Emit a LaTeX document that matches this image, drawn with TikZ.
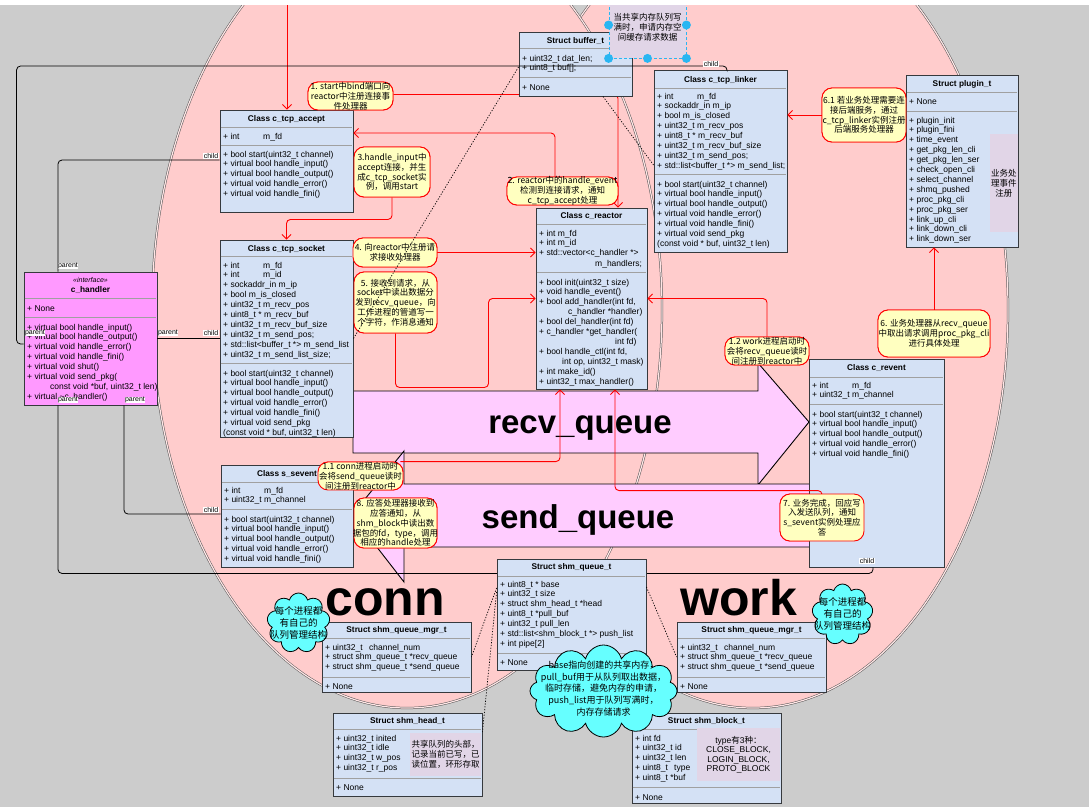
\documentclass[tikz,border=0pt]{standalone}
\usepackage{fontspec}
\setmainfont{Liberation Sans}
\newfontfamily\cjk{Noto Sans CJK SC}
\usetikzlibrary{arrows.meta,shapes.symbols}
\definecolor{bggray}{HTML}{CCCCCC}
\definecolor{ellpink}{HTML}{FFCCCC}
\definecolor{ellline}{HTML}{555555}
\definecolor{ellgap}{HTML}{FFE6E6}
\definecolor{boxfill}{HTML}{D4E1F5}
\definecolor{boxline}{HTML}{36393D}
\definecolor{sepgray}{HTML}{A0A0A0}
\definecolor{handfill}{HTML}{FF99FF}
\definecolor{qfill}{HTML}{FFCCFF}
\definecolor{noteyel}{HTML}{FFFFC0}
\definecolor{notepurple}{HTML}{E1D5E7}
\definecolor{cloudcyan}{HTML}{66FFFF}
\definecolor{handleblue}{HTML}{29B6F2}
\catcode`\_=12
\tikzset{
  umlbox/.style={rectangle,draw=boxline,line width=0.9pt,inner sep=0pt},
  sepl/.style={draw=sepgray,line width=1pt},
  txt/.style={inner sep=0pt,font=\fontsize{8.5}{9.9}\selectfont},
  ttl/.style={inner sep=0pt,font=\bfseries\fontsize{8.3}{9.9}\selectfont},
  note/.style={rectangle,draw=red,fill=noteyel,rounded corners=10pt,line width=0.9pt,inner sep=0pt},
  notetxt/.style={align=center,inner sep=0pt,font=\cjk\fontsize{8.5}{9.8}\selectfont},
  side/.style={rectangle,fill=notepurple,inner sep=0pt},
  redln/.style={draw=red,line width=0.9pt,rounded corners=4pt},
  redar/.style={redln,-{Straight Barb[length=4.5pt,width=9pt]}},
  blk/.style={draw=black,line width=0.8pt,rounded corners=4pt},
  lbl/.style={fill=white,inner sep=0.5pt,font=\fontsize{7}{7.5}\selectfont},
  dotl/.style={draw=black,line width=0.7pt,dash pattern=on 1.2pt off 1.6pt},
  qarrow/.style={draw=black,fill=qfill,line width=0.9pt},
  qtxt/.style={inner sep=0pt,font=\bfseries\fontsize{33}{33}\selectfont},
  bigtxt/.style={inner sep=0pt,font=\bfseries\fontsize{50}{50}\selectfont},
  cloudbox/.style={cloud,cloud ignores aspect,draw=black,fill=cloudcyan,line width=0.8pt,inner sep=0pt},
  ell/.style={fill=ellpink,draw=ellline,line width=0.5pt,double=ellgap,double distance=1.2pt}
}
\newcommand\ubox[6]{\node[umlbox,fill=#6,minimum width={(#4-#2)*1pt},minimum height={(#5-#3)*1pt}] (#1) at ({(#2+#4)/2},{(#3+#5)/2}) {};}
\newcommand\usep[3]{\draw[sepl] ({#1+0.6},{#3}) -- ({#2-0.6},{#3});}
\newcommand\utitle[4]{\node[ttl,anchor=base] (#1) at ({#2},{#3+3}) {#4};}
\newcommand\ulines[4]{\foreach \lx [count=\i from 0] in {#4} {\node[txt,anchor=base west] (#1\i) at ({#2},{#3+3+\i*9.9}) {\lx};}}
\newcommand\unote[6]{\node[note,minimum width={(#4-#2)*1pt},minimum height={(#5-#3)*1pt}] (#1) at ({(#2+#4)/2},{(#3+#5)/2}) {};\node[notetxt] (#1x) at (#1) {#6};}
\newcommand\uside[6]{\node[side,minimum width={(#4-#2)*1pt},minimum height={(#5-#3)*1pt}] (#1) at ({(#2+#4)/2},{(#3+#5)/2}) {};\node[notetxt] (#1x) at (#1) {#6};}
\begin{document}
\begin{tikzpicture}[x=1pt,y=-1pt]
\useasboundingbox (0,0) rectangle (1089,807);
\fill[bggray] (0,0) rectangle (1089,807);
% ellipses
\draw[ell] (753,310) ellipse [x radius=255pt, y radius=398pt];
\draw[ell] (407,310) ellipse [x radius=255pt, y radius=398pt];
% queue arrows
\draw[qarrow] (353,391) -- (758,391) -- (758,363) -- (809,422) -- (758,485) -- (758,453) -- (353,453) -- cycle;
\node[qtxt,anchor=base] (recvt) at (580,433) {recv_queue};
\draw[qarrow] (810,484) -- (404,484) -- (404,451) -- (352,515) -- (404,582) -- (404,547) -- (810,547) -- cycle;
\node[qtxt,anchor=base] (sendt) at (578,528) {send_queue};
\node[bigtxt,anchor=base west] (conn) at (325,615) {conn};
\node[bigtxt,anchor=base west] (work) at (680,615) {work};
% notes (shapes first, placed now so red lines can reference them)
\unote{N1}{308}{82}{393}{110}{1. start中bind端口向\\reactor中注册连接事\\件处理器}
\unote{N2}{507}{177}{618}{205}{2. reactor中的handle_event\\检测到连接请求，通知\\c_tcp_accept处理}
\unote{N3}{354}{147}{430}{197}{3.handle_input中\\accept连接，并生\\成c_tcp_socket实\\例，调用start}
\unote{N4}{353}{238}{437}{267}{4. 向reactor中注册请\\求接收处理器}
\unote{N5}{354}{272}{437}{333}{5. 接收到请求，从\\socket中读出数据分\\发到recv_queue，向\\工作进程的管道写一\\个字符，作消息通知}
\unote{N11}{318}{462}{403}{490}{1.1 conn进程启动时\\会将send_queue读时\\间注册到reactor中}
\unote{N8}{354}{498}{437}{548}{8. 应答处理器接收到\\应答通知，从\\shm_block中读出数\\据包的fd，type，调用\\相应的handle处理}
\unote{N12}{725}{337}{809}{365}{1.2 work进程启动时\\会将recv_queue读时\\间注册到reactor中}
\unote{N61}{822}{88}{906}{142}{6.1 若业务处理需要连\\接后端服务，通过\\c_tcp_linker实例注册\\后端服务处理器}
\unote{N6}{878}{310}{990}{357}{6. 业务处理器从recv_queue\\中取出请求调用proc_pkg_cli\\进行具体处理}
\unote{N7}{780}{494}{864}{541}{7. 业务完成，回应写\\入发送队列，通知\\s_sevent实例处理应\\答}
% boxes
\ubox{acc}{220}{110}{353}{212}{boxfill}
\ubox{sock}{220}{240}{353}{437}{boxfill}
\ubox{hand}{24}{272}{157}{405}{handfill}
\ubox{buf}{519}{32}{632}{96}{boxfill}
\ubox{link}{654}{70}{787}{252}{boxfill}
\ubox{reac}{536}{208}{647}{389}{boxfill}
\ubox{plug}{906}{75}{1018}{247}{boxfill}
\ubox{reve}{809}{359}{944}{567}{boxfill}
\ubox{seve}{221}{465}{353}{567}{boxfill}
\ubox{mgrl}{322}{622}{471}{692}{boxfill}
\ubox{mgrr}{677}{622}{826}{692}{boxfill}
\ubox{head}{333}{713}{482}{796}{boxfill}
\ubox{blk}{632}{713}{781}{803}{boxfill}
% red connectors
\coordinate (topin) at (287,5);
\draw[redar] (topin) -- (topin |- acc.north);
\draw[redar] ([yshift=1.5pt]N1.east) -| ([xshift=26.5pt]reac.north);
\draw[redar] ([xshift=-7.5pt]N2.north) |- ([yshift=28pt]acc.east);
\draw[redar] (N3.south) -- ++(0,22) -| (sock.north);
\draw[redar] (N4.east) -- (N4.east -| reac.west);
\draw[redar] (N5.south) -- ++(0,54) -- ++(93,0) |- (reac.west);
\draw[redar] (N12.north) |- (reac.east);
\draw[redar] (N6.north) -- (N6.north |- plug.south);
\draw[redar] (N61.west) -- (N61.west -| link.east);
\draw[redar] ([xshift=-3pt]N11.north east) -| ([xshift=-31.5pt]reac.south);
\draw[redar] (N7.north) -- ++(0,-3) -| ([xshift=23.5pt]reac.south);
% redraw box over red line
\ubox{buf}{519}{32}{632}{96}{boxfill}
% box contents
\utitle{acct}{286.5}{118}{Class c_tcp_accept}
\usep{220}{353}{127}
\ulines{acca}{223}{136}{{\makebox[40pt][l]{+ int}m_fd}}
\usep{220}{353}{145}
\ulines{accm}{223}{154}{+ bool start(uint32_t channel),+ virtual bool handle_input(),+ virtual bool handle_output(),+ virtual void handle_error(),+ virtual void handle_fini()}
\utitle{sockt}{286.5}{248}{Class c_tcp_socket}
\usep{220}{353}{256}
\ulines{socka}{223}{265}{{\makebox[40pt][l]{+ int}m_fd},{\makebox[40pt][l]{+ int}m_id},+ sockaddr_in m_ip,+ bool m_is_closed,+ uint32_t m_recv_pos,+ uint8_t * m_recv_buf,+ uint32_t m_recv_buf_size,+ uint32_t m_send_pos;,+ std::list<buffer_t *> m_send_list,+ uint32_t m_send_list_size;}
\usep{220}{353}{363}
\ulines{sockm}{223}{373}{+ bool start(uint32_t channel),+ virtual bool handle_input(),+ virtual bool handle_output(),+ virtual void handle_error(),+ virtual void handle_fini(),+ virtual void send_pkg,{(const void * buf, uint32_t len)}}
\node[inner sep=0pt,font=\itshape\fontsize{7}{8}\selectfont,anchor=base] (handi) at (90.5,282.5) {<<interface>>};
\utitle{handt}{90.5}{289}{c_handler}
\usep{24}{157}{298}
\ulines{handa}{27}{308}{+ None}
\usep{24}{157}{317}
\ulines{handm}{27}{327}{+ virtual bool handle_input(),+ virtual bool handle_output(),+ virtual void handle_error(),+ virtual void handle_fini(),+ virtual void shut(),+ virtual void send_pkg(,{},+ virtual \textasciitilde c_handler()}
\node[txt,anchor=base west] (handc) at (50,{327+3+6*9.9}) {const void *buf, uint32_t len)};
\utitle{buft}{575.5}{40}{Struct buffer_t}
\usep{519}{632}{48}
\ulines{bufa}{522}{58}{+ uint32_t dat_len;,+ uint8_t buf[];}
\usep{519}{632}{77}
\ulines{bufn}{522}{87}{+ None}
\utitle{linkt}{720.5}{79}{Class c_tcp_linker}
\usep{654}{787}{88}
\ulines{linka}{657}{96}{{\makebox[40pt][l]{+ int}m_fd},+ sockaddr_in m_ip,+ bool m_is_closed,+ uint32_t m_recv_pos,+ uint8_t * m_recv_buf,+ uint32_t m_recv_buf_size,+ uint32_t m_send_pos;,+ std::list<buffer_t *> m_send_list;}
\usep{654}{787}{174}
\ulines{linkm}{657}{184}{+ bool start(uint32_t channel),+ virtual bool handle_input(),+ virtual bool handle_output(),+ virtual void handle_error(),+ virtual void handle_fini(),+ virtual void send_pkg,{(const void * buf, uint32_t len)}}
\utitle{react}{591.5}{215}{Class c_reactor}
\usep{536}{647}{224}
\ulines{reaca}{539}{233}{+ int m_fd,+ int m_id,+ std::vector<c_handler *>}
\node[txt,anchor=base west] (reach) at (595,266) {m_handlers;};
\usep{536}{647}{272}
\ulines{reacm}{539}{282}{+ bool init(uint32_t size),+ void handle_event(),{+ bool add_handler(int fd,},{},+ bool del_handler(int fd),+ c_handler *get_handler(,{},{+ bool handle_ctl(int fd,},{},+ int make_id(),+ uint32_t max_handler()}
\node[txt,anchor=base west] (reacc1) at (568,{282+3+3*9.9}) {c_handler *handler)};
\node[txt,anchor=base west] (reacc2) at (615,{282+3+6*9.9}) {int fd)};
\node[txt,anchor=base west] (reacc3) at (562,{282+3+8*9.9}) {int op, uint32_t mask)};
\utitle{plugt}{962}{83}{Struct plugin_t}
\usep{906}{1018}{92}
\ulines{pluga}{909}{101}{+ None}
\usep{906}{1018}{111}
\ulines{plugm}{909}{120}{+ plugin_init,+ plugin_fini,+ time_event,+ get_pkg_len_cli,+ get_pkg_len_ser,+ check_open_cli,+ select_channel,+ shmq_pushed,+ proc_pkg_cli,+ proc_pkg_ser,+ link_up_cli,+ link_down_cli,+ link_down_ser}
\uside{plugs}{990}{134}{1017.5}{232}{业务处\\理事件\\注册}
\utitle{revet}{876.5}{367}{Class c_revent}
\usep{809}{944}{377}
\ulines{revea}{812}{385}{{\makebox[40pt][l]{+ int}m_fd},+ uint32_t m_channel}
\usep{809}{944}{404}
\ulines{revem}{812}{414}{+ bool start(uint32_t channel),+ virtual bool handle_input(),+ virtual bool handle_output(),+ virtual void handle_error(),+ virtual void handle_fini()}
\utitle{sevet}{287}{473}{Class s_sevent}
\usep{221}{353}{482}
\ulines{sevea}{224}{490}{{\makebox[40pt][l]{+ int}m_fd},+ uint32_t m_channel}
\usep{221}{353}{509}
\ulines{sevem}{224}{519}{+ bool start(uint32_t channel),+ virtual bool handle_input(),+ virtual bool handle_output(),+ virtual void handle_error(),+ virtual void handle_fini()}
\utitle{mgrlt}{396.5}{629}{Struct shm_queue_mgr_t}
\usep{322}{471}{638}
\ulines{mgrla}{325}{647}{{\makebox[44pt][l]{+ uint32_t}channel_num},+ struct shm_queue_t *recv_queue,+ struct shm_queue_t *send_queue}
\usep{322}{471}{677}
\ulines{mgrln}{325}{686}{+ None}
\utitle{mgrrt}{751.5}{629}{Struct shm_queue_mgr_t}
\usep{677}{826}{638}
\ulines{mgrra}{680}{647}{{\makebox[44pt][l]{+ uint32_t}channel_num},+ struct shm_queue_t *recv_queue,+ struct shm_queue_t *send_queue}
\usep{677}{826}{677}
\ulines{mgrrn}{680}{686}{+ None}
\utitle{headt}{407.5}{720}{Struct shm_head_t}
\usep{333}{482}{729}
\ulines{heada}{336}{738}{+ uint32_t inited,+ uint32_t idle,+ uint32_t w_pos,+ uint32_t r_pos}
\usep{333}{482}{778}
\ulines{headn}{336}{787}{+ None}
\uside{heads}{410}{733}{481}{776}{共享队列的头部，\\记录当前已写，已\\读位置，环形存取}
\utitle{blkt}{706.5}{720}{Struct shm_block_t}
\usep{632}{781}{729}
\ulines{blka}{635}{738}{+ int fd,+ uint32_t id,+ uint32_t len,{\makebox[39pt][l]{+ uint8_t}type},+ uint8_t *buf}
\usep{632}{781}{787}
\ulines{blkn}{635}{797}{+ None}
\node[side,minimum width=83pt,minimum height=53pt] (blks) at (738.5,754.5) {};
\node[align=center,inner sep=0pt,font=\fontsize{8.5}{9.5}\selectfont] (blksx) at (738.5,755) {type{\cjk 有}3{\cjk 种：}\\CLOSE_BLOCK,\\LOGIN_BLOCK,\\PROTO_BLOCK};
% black inheritance connectors
\draw[blk] ([yshift=-5.5pt]hand.west) -- ++(-7,0) -- ++(0,-278) -| ([xshift=6.5pt]link.north);
\draw[blk] ([xshift=-32.5pt]hand.north) |- ([yshift=1pt]acc.west);
\draw[blk] (hand.east) -- (hand.east -| sock.west);
\draw[blk] ([xshift=33.5pt]hand.south) |- ([yshift=2pt]seve.west);
\draw[blk] ([xshift=-32.5pt]hand.south) -- ++(0,168) -| ([xshift=-3.5pt]reve.south);
\node[lbl] (lp1) at (35,333) {parent};
\node[lbl] (lc1) at (711,64) {child};
\node[lbl] (lp2) at (68,266) {parent};
\node[lbl] (lc2) at (211,156) {child};
\node[lbl] (lp3) at (168,333) {parent};
\node[lbl] (lc3) at (211,333) {child};
\node[lbl] (lp4) at (135,400) {parent};
\node[lbl] (lc4) at (211,510) {child};
\node[lbl] (lp5) at (68,400) {parent};
\node[lbl] (lc5) at (867,561) {child};
% shm_queue_t on top of the long connector
\ubox{shmq}{497}{559}{646}{670}{boxfill}
\utitle{shmqt}{571.5}{566}{Struct shm_queue_t}
\usep{497}{646}{576}
\ulines{shmqa}{500}{584}{+ uint8_t * base,+ uint32_t size,+ struct shm_head_t *head,+ uint8_t *pull_buf,+ uint32_t pull_len,+ std::list<shm_block_t *> push_list,+ int pipe[2]}
\usep{497}{646}{653}
\ulines{shmqn}{500}{662}{+ None}
% notes on top
\unote{N1}{308}{82}{393}{110}{1. start中bind端口向\\reactor中注册连接事\\件处理器}
\unote{N2}{507}{177}{618}{205}{2. reactor中的handle_event\\检测到连接请求，通知\\c_tcp_accept处理}
\unote{N3}{354}{147}{430}{197}{3.handle_input中\\accept连接，并生\\成c_tcp_socket实\\例，调用start}
\unote{N4}{353}{238}{437}{267}{4. 向reactor中注册请\\求接收处理器}
\unote{N5}{354}{272}{437}{333}{5. 接收到请求，从\\socket中读出数据分\\发到recv_queue，向\\工作进程的管道写一\\个字符，作消息通知}
\unote{N11}{318}{462}{403}{490}{1.1 conn进程启动时\\会将send_queue读时\\间注册到reactor中}
\unote{N8}{354}{498}{437}{548}{8. 应答处理器接收到\\应答通知，从\\shm_block中读出数\\据包的fd，type，调用\\相应的handle处理}
\unote{N12}{725}{337}{809}{365}{1.2 work进程启动时\\会将recv_queue读时\\间注册到reactor中}
\unote{N61}{822}{88}{906}{142}{6.1 若业务处理需要连\\接后端服务，通过\\c_tcp_linker实例注册\\后端服务处理器}
\unote{N6}{878}{310}{990}{357}{6. 业务处理器从recv_queue\\中取出请求调用proc_pkg_cli\\进行具体处理}
\unote{N7}{780}{494}{864}{541}{7. 业务完成，回应写\\入发送队列，通知\\s_sevent实例处理应\\答}
% dotted associations
\draw[dotl] ([yshift=-3pt]buf.west) -- (sock.east);
\draw[dotl] ([xshift=27.5pt]buf.south) -- ([yshift=-4pt]link.west);
\draw[dotl] ([yshift=26.5pt]shmq.west) -- (mgrl.east);
\draw[dotl] ([yshift=22.5pt]shmq.west) -- ([yshift=22.5pt]head.east);
\draw[dotl] ([yshift=27.5pt]shmq.east) -- (mgrr.west);
% clouds
\node[cloudbox,cloud puffs=9,minimum width=63pt,minimum height=60pt] (cl1) at (298.5,623) {};
\node[align=center,inner sep=0pt,font=\cjk\fontsize{9.5}{12}\selectfont] (cl1x) at (298.5,623) {每个进程都\\有自己的\\队列管理结构};
\node[cloudbox,cloud puffs=9,minimum width=61pt,minimum height=61pt] (cl2) at (842.5,614.5) {};
\node[align=center,inner sep=0pt,font=\cjk\fontsize{9.5}{12}\selectfont] (cl2x) at (842.5,614) {每个进程都\\有自己的\\队列管理结构};
\node[cloudbox,cloud puffs=12,minimum width=147pt,minimum height=92pt] (cl3) at (603.5,691) {};
\node[align=center,inner sep=0pt,font=\cjk\fontsize{9}{11.7}\selectfont] (cl3x) at (603.5,688.5) {base指向创建的共享内存，\\pull_buf用于从队列取出数据，\\临时存储，避免内存的申请，\\push_list用于队列写满时，\\内存存储请求};
% selected note on buffer_t
\node[rectangle,draw=handleblue,dash pattern=on 3pt off 2pt,fill=notepurple,line width=0.8pt,minimum width=77pt,minimum height=66pt,inner sep=0pt] (bnote) at (647.5,25) {};
\node[notetxt] (bnotex) at (647.5,27.5) {当共享内存队列写\\满时，申请内存空\\间缓存请求数据};
\foreach \a in {west,east,south west,south,south east} {\fill[handleblue] (bnote.\a) circle[radius=4.5pt];}
% top strip
\fill[white] (0,0) rectangle (1089,5);
\end{tikzpicture}
\end{document}
